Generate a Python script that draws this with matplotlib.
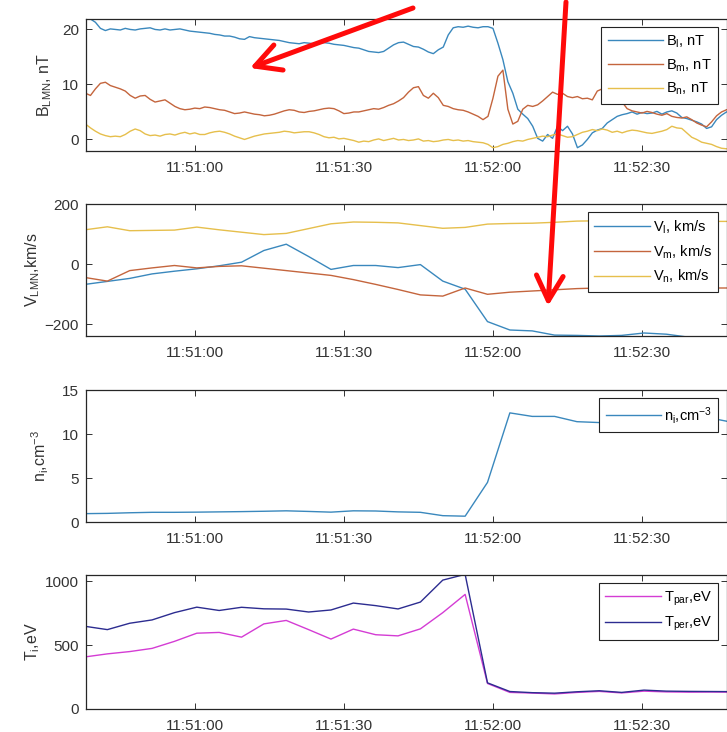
import numpy as np
import matplotlib
matplotlib.use("Agg")
import matplotlib.pyplot as plt
from matplotlib.patches import FancyArrowPatch
from matplotlib.ticker import FixedLocator, FuncFormatter

plt.rcParams["font.family"] = ["Liberation Sans", "DejaVu Sans"]
plt.rcParams["mathtext.default"] = "regular"

# seconds after 11:50:00 UT
b_t = np.arange(37, 169)          # magnetometer, 1 s samples
fpi_t = np.arange(33.4, 170, 4.5)  # ion moments, 4.5 s cadence

b_l = [22.3,
       22.2, 21.9, 21.3, 20.2, 19.8, 20.1, 20.0, 19.9, 20.2, 20.0,
       19.9, 20.1, 20.2, 20.3, 20.0, 19.9, 20.1, 19.9, 20.0, 20.1,
       19.9, 19.7, 19.6, 19.5, 19.4, 19.3, 19.1, 19.0, 18.8, 18.8,
       18.6, 18.3, 18.2, 18.7, 18.5, 18.4, 18.3, 18.2, 18.1, 18.0,
       17.8, 17.6, 17.5, 17.4, 17.6, 17.5, 17.4, 17.5, 17.6, 17.5,
       17.3, 17.2, 17.1, 16.9, 16.7, 16.6, 16.3, 16.0, 15.9, 15.8,
       16.0, 16.6, 17.2, 17.6, 17.7, 17.3, 16.9, 16.8, 16.4, 15.9,
       15.6, 16.3, 16.8, 19.0, 20.3, 20.5, 20.4, 20.6, 20.4, 20.3,
       20.5, 20.5, 20.2, 17.5, 14.5, 10.5, 8.4, 5.5, 4.6, 3.8,
       2.4, 0.2, -0.3, 0.9, 0.2, 2.4, 1.6, 2.4, 1.0, -1.5,
       -1.0, 0.0, 1.2, 1.7, 2.0, 3.0, 3.6, 4.2, 4.5, 4.7,
       5.0, 4.6, 4.9, 4.7, 4.8, 5.1, 4.6, 5.0, 5.2, 4.8,
       4.0, 3.8, 3.5, 3.2, 2.8, 2.0, 2.3, 3.6, 4.4, 5.0, 5.3]
b_m = [8.6,
       8.4, 8.0, 9.2, 10.2, 10.4, 9.8, 9.5, 9.2, 8.8, 8.0,
       7.5, 7.9, 8.0, 7.3, 6.8, 7.0, 7.2, 6.6, 6.0, 5.6,
       5.4, 5.5, 5.7, 5.6, 5.9, 5.8, 5.6, 5.4, 5.3, 5.0,
       4.7, 4.8, 5.0, 4.8, 4.6, 4.5, 4.3, 4.4, 4.6, 4.9,
       5.2, 5.4, 5.3, 5.0, 4.9, 5.1, 5.2, 5.4, 5.6, 5.7,
       5.6, 5.2, 4.7, 4.8, 5.0, 5.0, 5.2, 5.4, 5.6, 5.5,
       5.8, 6.2, 6.5, 7.0, 7.6, 8.6, 9.4, 9.6, 8.0, 7.5,
       8.4, 7.6, 6.2, 6.0, 5.6, 5.4, 5.3, 5.0, 4.6, 4.2,
       3.6, 4.2, 7.5, 11.5, 12.6, 5.5, 2.8, 3.3, 5.5, 6.2,
       6.0, 6.3, 7.0, 7.8, 8.6, 8.2, 8.4, 7.8, 7.6, 7.8,
       7.4, 7.5, 7.2, 8.8, 9.2, 8.5, 8.1, 7.6, 6.8, 5.6,
       5.2, 5.0, 4.8, 5.1, 4.9, 4.6, 4.4, 4.7, 4.2, 4.0,
       3.9, 4.1, 3.6, 3.0, 2.6, 2.3, 3.2, 4.3, 5.0, 5.4, 5.6]
b_n = [3.0,
       2.8, 2.1, 1.5, 1.0, 0.7, 0.5, 0.6, 0.5, 0.9, 1.5,
       1.9, 1.6, 1.0, 0.7, 0.8, 0.6, 0.9, 1.0, 0.8, 1.1,
       1.3, 1.0, 1.2, 0.9, 0.9, 1.2, 1.4, 1.5, 1.3, 1.0,
       0.6, 0.3, 0.0, 0.3, 0.6, 0.8, 1.0, 1.1, 1.2, 1.3,
       1.5, 1.4, 1.2, 1.3, 1.4, 1.4, 1.2, 0.9, 0.5, 0.3,
       0.4, 0.1, 0.2, 0.0, -0.2, -0.5, -0.3, -0.4, -0.1, 0.1,
       -0.2, 0.0, 0.2, -0.1, 0.0, -0.2, -0.1, 0.1, -0.3, -0.2,
       -0.4, -0.3, -0.1, 0.0, -0.2, -0.1, -0.3, -0.2, -0.4, -0.5,
       -0.6, -0.9, -1.5, -1.3, -0.9, -0.7, -0.4, -0.2, -0.3, 0.0,
       0.2, 0.4, 0.6, 0.5, 0.8, 1.0, 0.7, 0.4, 0.5, 0.9,
       1.3, 1.5, 1.8, 1.6, 1.9, 1.7, 1.3, 1.5, 1.2, 1.5,
       1.7, 1.6, 1.4, 1.2, 1.1, 1.3, 1.5, 1.8, 2.4, 2.1,
       2.0, 1.2, 0.4, 0.0, -0.5, -0.7, -0.9, -1.3, -1.6, -1.7, -1.8]

v_l = [-80, -68, -58, -48, -33, -24, -16, -6, 6, 45, 66, 25, -18, -5, -5, -12,
       -2, -57, -84, -192, -220, -223, -237, -238, -240, -238, -230, -234, -244,
       -247, -248]
v_m = [-30, -45, -57, -22, -13, -5, -13, -8, -6, -14, -22, -30, -38, -52, -68,
       -85, -103, -107, -80, -101, -94, -90, -86, -82, -80, -80, -79, -78, -79,
       -80, -80]
v_n = [112, 114, 124, 111, 112, 113, 123, 114, 106, 98, 102, 118, 134, 140, 139,
       137, 128, 119, 122, 133, 135, 136, 139, 143, 144, 143, 143, 144, 143, 142,
       142]

n_i = [0.9, 0.95, 0.98, 1.05, 1.1, 1.1, 1.12, 1.15, 1.18, 1.22, 1.27, 1.2, 1.12,
       1.27, 1.25, 1.15, 1.1, 0.72, 0.66, 4.5, 12.4, 12.0, 12.0, 11.4, 11.3, 11.2,
       11.4, 11.3, 11.6, 11.8, 11.3]

t_par = [400, 408, 432, 450, 475, 530, 594, 600, 563, 667, 694, 622, 548, 626,
         582, 573, 628, 755, 898, 200, 130, 125, 118, 130, 138, 126, 140, 134,
         132, 133, 132]
t_per = [660, 648, 622, 672, 698, 755, 798, 772, 797, 785, 783, 760, 776, 830,
         810, 784, 838, 1010, 1055, 205, 137, 128, 124, 135, 143, 130, 148, 140,
         138, 137, 136]

time_ticks = [60, 90, 120, 150]

BLUE, ORANGE, YELLOW = "#3a88bd", "#c4653d", "#e6bf4c"
MAGENTA, NAVY = "#d43cd4", "#2c2c90"

W, H = 727, 732


def hhmmss(s, _pos=None):
    s = int(round(s))
    return f"11:{50 + s // 60:02d}:{s % 60:02d}"


def panel(fig, top_px, bot_px):
    left, right = 86, 726.5
    ax = fig.add_axes([left / W, 1 - bot_px / H, (right - left) / W,
                       (bot_px - top_px) / H])
    ax.set_xlim(38.1, 167.0)
    ax.xaxis.set_major_locator(FixedLocator(time_ticks))
    ax.xaxis.set_major_formatter(FuncFormatter(hhmmss))
    ax.tick_params(direction="in", top=True, right=True, length=4.5,
                   width=0.7, labelsize=11, colors="#333333", pad=5)
    ax.tick_params(axis="x", pad=7)
    for sp in ax.spines.values():
        sp.set_linewidth(0.9)
        sp.set_color("#262626")
    return ax


def legend(ax):
    leg = ax.legend(loc="upper right", fontsize=10.5, handlelength=3.8,
                    handletextpad=0.2, labelspacing=0.5, borderpad=0.45,
                    borderaxespad=0.55, fancybox=False, framealpha=1)
    leg.get_frame().set_edgecolor("#222222")
    leg.get_frame().set_linewidth(0.8)


fig = plt.figure(figsize=(W / 100, H / 100), dpi=100)
fig.patch.set_facecolor("white")

# magnetic field, LMN frame
ax1 = panel(fig, 19, 151)
ax1.plot(b_t, b_l, color=BLUE, lw=1.0, label=r"B$_l$, nT")
ax1.plot(b_t, b_m, color=ORANGE, lw=1.0, label=r"B$_m$, nT")
ax1.plot(b_t, b_n, color=YELLOW, lw=1.0, label=r"B$_n$, nT")
ax1.set_ylim(-2.1, 21.9)
ax1.set_yticks([0, 10, 20])
ax1.set_ylabel(r"B$_{LMN}$, nT", fontsize=11.5, color="#333333", labelpad=6)
legend(ax1)

# ion bulk velocity
ax2 = panel(fig, 204, 336)
ax2.plot(fpi_t, v_l, color=BLUE, lw=1.0, label=r"V$_l$, km/s")
ax2.plot(fpi_t, v_m, color=ORANGE, lw=1.0, label=r"V$_m$, km/s")
ax2.plot(fpi_t, v_n, color=YELLOW, lw=1.0, label=r"V$_n$, km/s")
ax2.set_ylim(-240, 200)
ax2.set_yticks([-200, 0, 200])
ax2.set_ylabel(r"V$_{LMN}$,km/s", fontsize=11.5, color="#333333", labelpad=2)
legend(ax2)

# ion density
ax3 = panel(fig, 390, 522)
ax3.plot(fpi_t, n_i, color=BLUE, lw=1.0, label=r"n$_i$,cm$^{-3}$")
ax3.set_ylim(0, 15)
ax3.set_yticks([0, 5, 10, 15])
ax3.set_ylabel(r"n$_i$,cm$^{-3}$", fontsize=11.5, color="#333333", labelpad=8)
legend(ax3)

# ion temperature
ax4 = panel(fig, 575, 709)
ax4.plot(fpi_t, t_par, color=MAGENTA, lw=1.0, label=r"T$_{par}$,eV")
ax4.plot(fpi_t, t_per, color=NAVY, lw=1.0, label=r"T$_{per}$,eV")
ax4.set_ylim(0, 1050)
ax4.set_yticks([0, 500, 1000])
ax4.set_ylabel(r"T$_i$,eV", fontsize=11.5, color="#333333", labelpad=2)
legend(ax4)

# red pointer arrows over the panels
for (x0, y0), (x1, y1) in [((413, 8), (250, 68)), ((566, 2), (548, 306))]:
    arr = FancyArrowPatch(
        (x0 / W, 1 - y0 / H), (x1 / W, 1 - y1 / H),
        transform=fig.transFigure,
        arrowstyle="->,head_length=0.75,head_width=0.4",
        mutation_scale=24, linewidth=3.6, color="#ff0a0a",
        shrinkA=0, shrinkB=0, zorder=10,
    )
    fig.add_artist(arr)

fig.savefig("out.png", dpi=100, facecolor="white")
